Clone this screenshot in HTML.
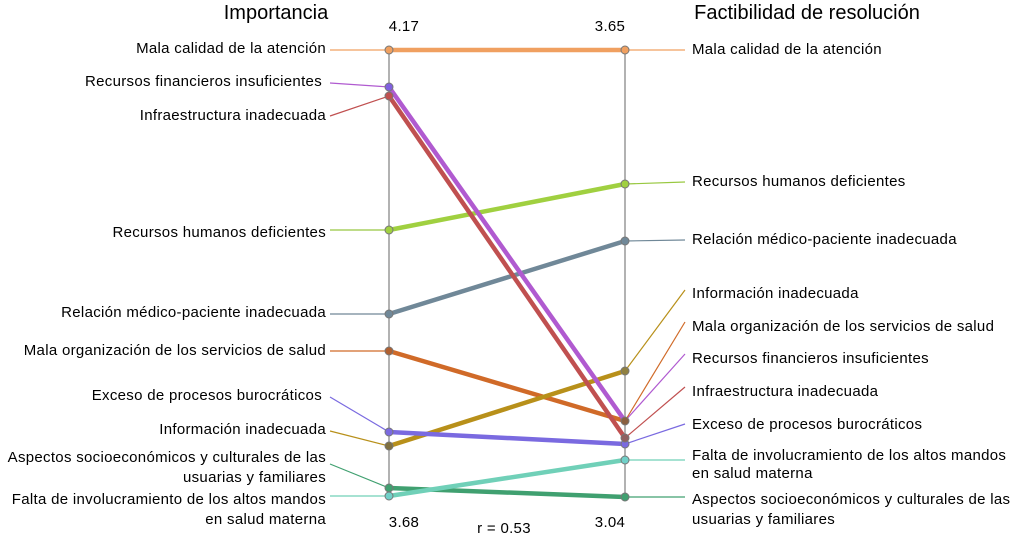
<!DOCTYPE html><html><head><style>body{margin:0;background:#fff}svg{display:block;font-family:"Liberation Sans",sans-serif}</style></head><body>
<svg width="1024" height="536" viewBox="0 0 1024 536">
<text x="276" y="19" font-size="20" text-anchor="middle">Importancia</text>
<text x="807" y="19" font-size="20" text-anchor="middle">Factibilidad de resolución</text>
<g font-size="15" text-anchor="middle" letter-spacing="0.3"><text x="404" y="31">4.17</text><text x="610" y="31">3.65</text><text x="404" y="527">3.68</text><text x="610" y="527">3.04</text><text x="504" y="533">r = 0.53</text></g>
<line x1="389" y1="50" x2="389" y2="497" stroke="#999" stroke-width="1.5"/>
<line x1="625" y1="50" x2="625" y2="497" stroke="#999" stroke-width="1.5"/>
<g font-size="15" text-anchor="end" letter-spacing="0.3">
<text x="326" y="53">Mala calidad de la atención</text>
<text x="322" y="86">Recursos financieros insuficientes</text>
<text x="326" y="120">Infraestructura inadecuada</text>
<text x="326" y="237">Recursos humanos deficientes</text>
<text x="326" y="317">Relación médico-paciente inadecuada</text>
<text x="326" y="355">Mala organización de los servicios de salud</text>
<text x="322" y="400">Exceso de procesos burocráticos</text>
<text x="326" y="434">Información inadecuada</text>
<text x="326" y="462">Aspectos  socioeconómicos y culturales de las</text>
<text x="326" y="482">usuarias y familiares</text>
<text x="326" y="504">Falta de involucramiento de los altos mandos</text>
<text x="326" y="524">en salud materna</text>
</g>
<g font-size="15" letter-spacing="0.3">
<text x="692" y="54">Mala calidad de la atención</text>
<text x="692" y="186">Recursos humanos deficientes</text>
<text x="692" y="244">Relación médico-paciente inadecuada</text>
<text x="692" y="298">Información inadecuada</text>
<text x="692" y="331">Mala organización de los servicios de salud</text>
<text x="692" y="363">Recursos financieros insuficientes</text>
<text x="692" y="396">Infraestructura inadecuada</text>
<text x="692" y="429">Exceso de procesos burocráticos</text>
<text x="692" y="460">Falta de involucramiento de los altos mandos</text>
<text x="692" y="478">en salud materna</text>
<text x="692" y="504">Aspectos  socioeconómicos y culturales de las</text>
<text x="692" y="524">usuarias y familiares</text>
</g>
<g stroke-width="1.2" fill="none">
<polyline points="330,50 389,50" stroke="#f0a060"/><polyline points="625,50 685,50" stroke="#f0a060"/>
<polyline points="330,83 389,87" stroke="#b05ad0"/><polyline points="625,421 685,354" stroke="#b05ad0"/>
<polyline points="330,116 389,96" stroke="#c05050"/><polyline points="625,438 685,387" stroke="#c05050"/>
<polyline points="330,230 389,230" stroke="#98c840"/><polyline points="625,184 685,182" stroke="#98c840"/>
<polyline points="330,314 389,314" stroke="#708898"/><polyline points="625,241 685,240" stroke="#708898"/>
<polyline points="330,351 389,351" stroke="#d06a28"/><polyline points="625,421 685,322" stroke="#d06a28"/>
<polyline points="330,397 389,432" stroke="#7a6ae0"/><polyline points="625,444 685,424" stroke="#7a6ae0"/>
<polyline points="330,431 389,446" stroke="#b8901a"/><polyline points="625,371 685,290" stroke="#b8901a"/>
<polyline points="330,464 389,488" stroke="#40a070"/><polyline points="625,497 685,497" stroke="#40a070"/>
<polyline points="330,496 389,496" stroke="#70d0b8"/><polyline points="625,460 685,460" stroke="#70d0b8"/>
</g>
<g stroke-width="4.5">
<line x1="389" y1="50" x2="625" y2="50" stroke="#f0a060"/>
<line x1="389" y1="230" x2="625" y2="184" stroke="#a0d040"/>
<line x1="389" y1="314" x2="625" y2="241" stroke="#708898"/>
<line x1="389" y1="351" x2="625" y2="421" stroke="#d06a28"/>
<line x1="389" y1="446" x2="625" y2="371" stroke="#b8901a"/>
<line x1="389" y1="432" x2="625" y2="444" stroke="#7a6ae0"/>
<line x1="389" y1="488" x2="625" y2="497" stroke="#40a070"/>
<line x1="389" y1="496" x2="625" y2="460" stroke="#70d0b8"/>
<line x1="389" y1="87" x2="625" y2="421" stroke="#b05ad0"/>
<line x1="389" y1="96" x2="625" y2="438" stroke="#c05050"/>
</g>
<g stroke="#777" stroke-width="1">
<circle cx="389" cy="50" r="4" fill="#f0a060"/><circle cx="625" cy="50" r="4" fill="#f0a060"/>
<circle cx="389" cy="87" r="4" fill="#8060e0"/><circle cx="389" cy="96" r="4" fill="#c05050"/>
<circle cx="389" cy="230" r="4" fill="#a0d040"/><circle cx="625" cy="184" r="4" fill="#a0d040"/>
<circle cx="389" cy="314" r="4" fill="#708898"/><circle cx="625" cy="241" r="4" fill="#708898"/>
<circle cx="389" cy="351" r="4" fill="#b06030"/><circle cx="625" cy="421" r="4" fill="#8a6040"/>
<circle cx="389" cy="432" r="4" fill="#7a6ae0"/><circle cx="625" cy="444" r="4" fill="#7a6ae0"/>
<circle cx="389" cy="446" r="4" fill="#807040"/><circle cx="625" cy="371" r="4" fill="#908040"/>
<circle cx="625" cy="438" r="4" fill="#906060"/>
<circle cx="389" cy="488" r="4" fill="#40a070"/><circle cx="625" cy="497" r="4" fill="#40a070"/>
<circle cx="389" cy="496" r="4" fill="#70d0c8"/><circle cx="625" cy="460" r="4" fill="#70d0c8"/>
</g>
</svg></body></html>
